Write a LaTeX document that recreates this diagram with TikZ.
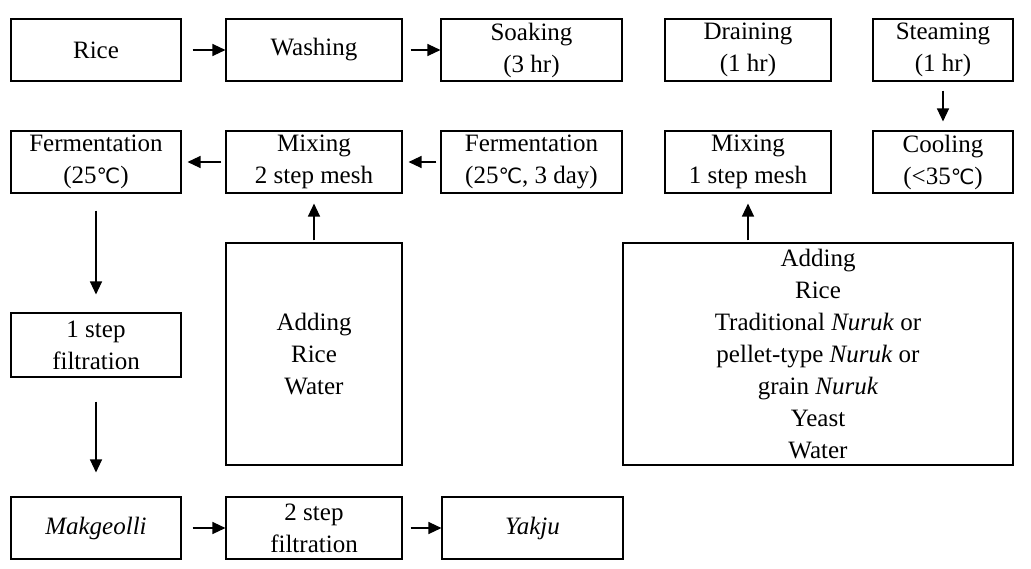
\documentclass[tikz,border=0pt]{standalone}
\usepackage{fontspec}
\setmainfont{Liberation Serif}
\newfontfamily\symfont{DejaVu Sans}
\usetikzlibrary{arrows.meta}
\newcommand{\degC}{{\symfont\fontsize{21}{32}\selectfont ℃}}
\tikzset{
  box/.style={draw, line width=1.1pt, inner sep=0pt, align=center,
    font=\fontsize{25}{32}\selectfont},
  arr/.style={line width=1.3pt, -{Triangle[length=13pt,width=12pt]}}
}
\begin{document}
\begin{tikzpicture}[x=1pt,y=-1pt]
\useasboundingbox (0,0) rectangle (1031,568);
% row 1
\node[box, minimum width=170pt, minimum height=62pt] (rice) at (96,50) {Rice};
\node[box, minimum width=176pt, minimum height=62pt] (wash) at (314,50) {Washing};
\node[box, minimum width=181pt, minimum height=62pt] (soak) at (531.5,50) {Soaking\\(3 hr)};
\node[box, minimum width=166pt, minimum height=62pt] (drain) at (748,50) {Draining\\(1 hr)};
\node[box, minimum width=140pt, minimum height=62pt] (steam) at (943,50) {Steaming\\(1 hr)};
% row 2
\node[box, minimum width=170pt, minimum height=62pt] (ferm1) at (96,162) {Fermentation\\(25\degC)};
\node[box, minimum width=176pt, minimum height=62pt] (mix2) at (314,162) {Mixing\\2 step mesh};
\node[box, minimum width=181pt, minimum height=62pt] (ferm2) at (531.5,162) {Fermentation\\(25\degC, 3 day)};
\node[box, minimum width=166pt, minimum height=62pt] (mix1) at (748,162) {Mixing\\1 step mesh};
\node[box, minimum width=140pt, minimum height=62pt] (cool) at (943,162) {Cooling\\(<35\degC)};
% row 3
\node[box, minimum width=170pt, minimum height=64pt] (filt1) at (96,345) {1 step\\filtration};
\node[box, minimum width=176pt, minimum height=222pt] (addL) at (314,354) {Adding\\Rice\\Water};
\node[box, minimum width=390pt, minimum height=222pt] (addR) at (818,354) {Adding\\Rice\\Traditional \textit{Nuruk} or\\pellet-type \textit{Nuruk} or\\grain \textit{Nuruk}\\Yeast\\Water};
% row 4
\node[box, minimum width=170pt, minimum height=62pt] (mak) at (96,528) {\textit{Makgeolli}};
\node[box, minimum width=176pt, minimum height=62pt] (filt2) at (314,528) {2 step\\filtration};
\node[box, minimum width=181pt, minimum height=62pt] (yak) at (532.5,528) {\textit{Yakju}};
% arrows
\draw[arr, shorten <=11pt] (rice.east) -- (wash.west);
\draw[arr, shorten <=8pt] (wash.east) -- (soak.west);
\draw[arr, shorten <=9pt, shorten >=9pt] (steam.south) -- (cool.north);
\draw[arr, shorten <=4pt, shorten >=6pt] (ferm2.west) -- (mix2.east);
\draw[arr, shorten <=4pt, shorten >=6pt] (mix2.west) -- (ferm1.east);
\draw[arr, shorten <=2pt, shorten >=10pt] (addL.north -| mix2.south) -- (mix2.south);
\draw[arr, shorten <=2pt, shorten >=10pt] (addR.north -| mix1.south) -- (mix1.south);
\draw[arr, shorten <=17pt, shorten >=18pt] (ferm1.south) -- (filt1.north);
\draw[arr, shorten <=24pt, shorten >=24pt] (filt1.south) -- (mak.north);
\draw[arr, shorten <=11pt] (mak.east) -- (filt2.west);
\draw[arr, shorten <=8pt] (filt2.east) -- (yak.west);
\end{tikzpicture}
\end{document}
